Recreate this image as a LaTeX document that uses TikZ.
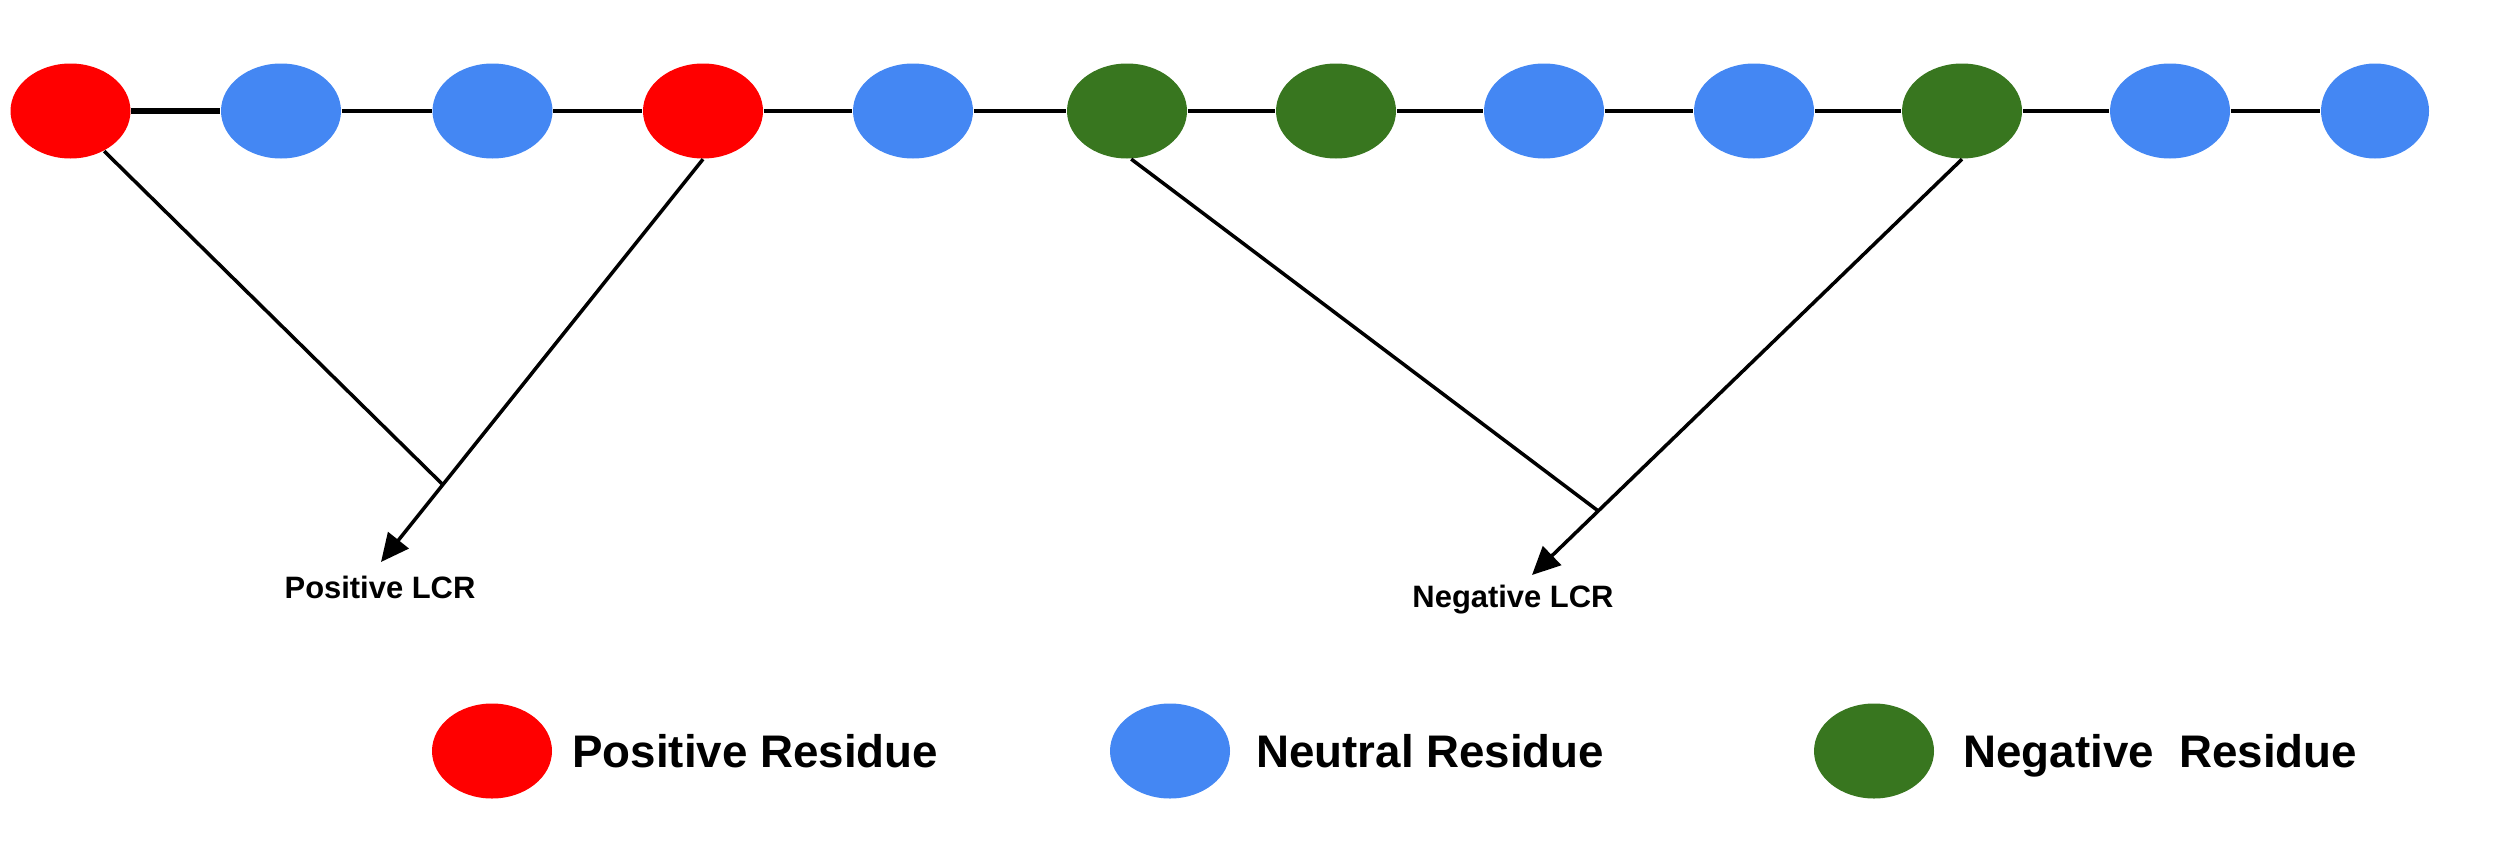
\documentclass[tikz,border=0pt]{standalone}
\usepackage{fontspec}
\setmainfont{Liberation Sans}
\usetikzlibrary{shapes.geometric,arrows.meta,positioning,calc}
\definecolor{posred}{HTML}{FF0000}
\definecolor{neublue}{HTML}{4487F3}
\definecolor{neggreen}{HTML}{38761F}
\begin{document}
\begin{tikzpicture}[
    res/.style={ellipse, draw=none, minimum width=1.2cm, minimum height=0.95cm, inner sep=0pt},
    posres/.style={res, fill=posred},
    neures/.style={res, fill=neublue},
    negres/.style={res, fill=neggreen},
    bond/.style={line width=1pt, black},
    arr/.style={line width=1pt, black, -{Triangle[length=0.28cm, width=0.26cm]}},
    lcr/.style={font=\fontsize{8.8}{10}\selectfont\bfseries},
    leg/.style={font=\fontsize{13}{15}\selectfont\bfseries, inner sep=0pt, text height=0.33cm, text depth=0.1cm, yshift=-0.05cm}
]
    \useasboundingbox (0,0) rectangle (25,-8.4);

    % Chaine de residus
    \node[posres] (r1) at (0.705,-1.11) {};
    \node[neures] (r2) at (2.81,-1.11) {};
    \node[neures] (r3) at (4.925,-1.11) {};
    \node[posres] (r4) at (7.03,-1.11) {};
    \node[neures] (r5) at (9.13,-1.11) {};
    \node[negres] (r6) at (11.27,-1.11) {};
    \node[negres] (r7) at (13.36,-1.11) {};
    \node[neures] (r8) at (15.44,-1.11) {};
    \node[neures] (r9) at (17.54,-1.11) {};
    \node[negres] (r10) at (19.62,-1.11) {};
    \node[neures] (r11) at (21.70,-1.11) {};
    \node[neures, minimum width=1.08cm] (r12) at (23.75,-1.11) {};

    % Liaisons
    \draw[bond, line width=1.6pt] (r1) -- (r2);
    \draw[bond] (r2) -- (r3);
    \draw[bond] (r3) -- (r4);
    \draw[bond] (r4) -- (r5);
    \draw[bond] (r5) -- (r6);
    \draw[bond] (r6) -- (r7);
    \draw[bond] (r7) -- (r8);
    \draw[bond] (r8) -- (r9);
    \draw[bond] (r9) -- (r10);
    \draw[bond] (r10) -- (r11);
    \draw[bond] (r11) -- (r12);

    % LCR positive
    \coordinate (ptip) at (3.81,-5.62);
    \coordinate (pjoin) at ($(r4.south)!0.808!(ptip)$);
    \draw[bond] (r1.-50) -- (pjoin);
    \draw[arr] (r4.south) -- (ptip);
    \node[lcr] (plcr) at (3.80,-5.87) {Positive LCR};

    % LCR negative
    \coordinate (ntip) at (15.32,-5.75);
    \coordinate (njoin) at ($(r10.south)!0.846!(ntip)$);
    \draw[bond] (r6.-85) -- (njoin);
    \draw[arr] (r10.south) -- (ntip);
    \node[lcr] (nlcr) at (15.13,-6.00) {Negative LCR};

    % Legende
    \node[posres] (lpos) at (4.92,-7.51) {};
    \node[leg, right=0.19cm of lpos] (tpos) {Positive Residue};
    \node[neures] (lneu) at (11.70,-7.51) {};
    \node[leg, right=0.25cm of lneu] (tneu) {Neutral Residue};
    \node[negres] (lneg) at (18.74,-7.51) {};
    \node[leg, right=0.28cm of lneg] (tneg) {Negative\ \ Residue};
\end{tikzpicture}
\end{document}
